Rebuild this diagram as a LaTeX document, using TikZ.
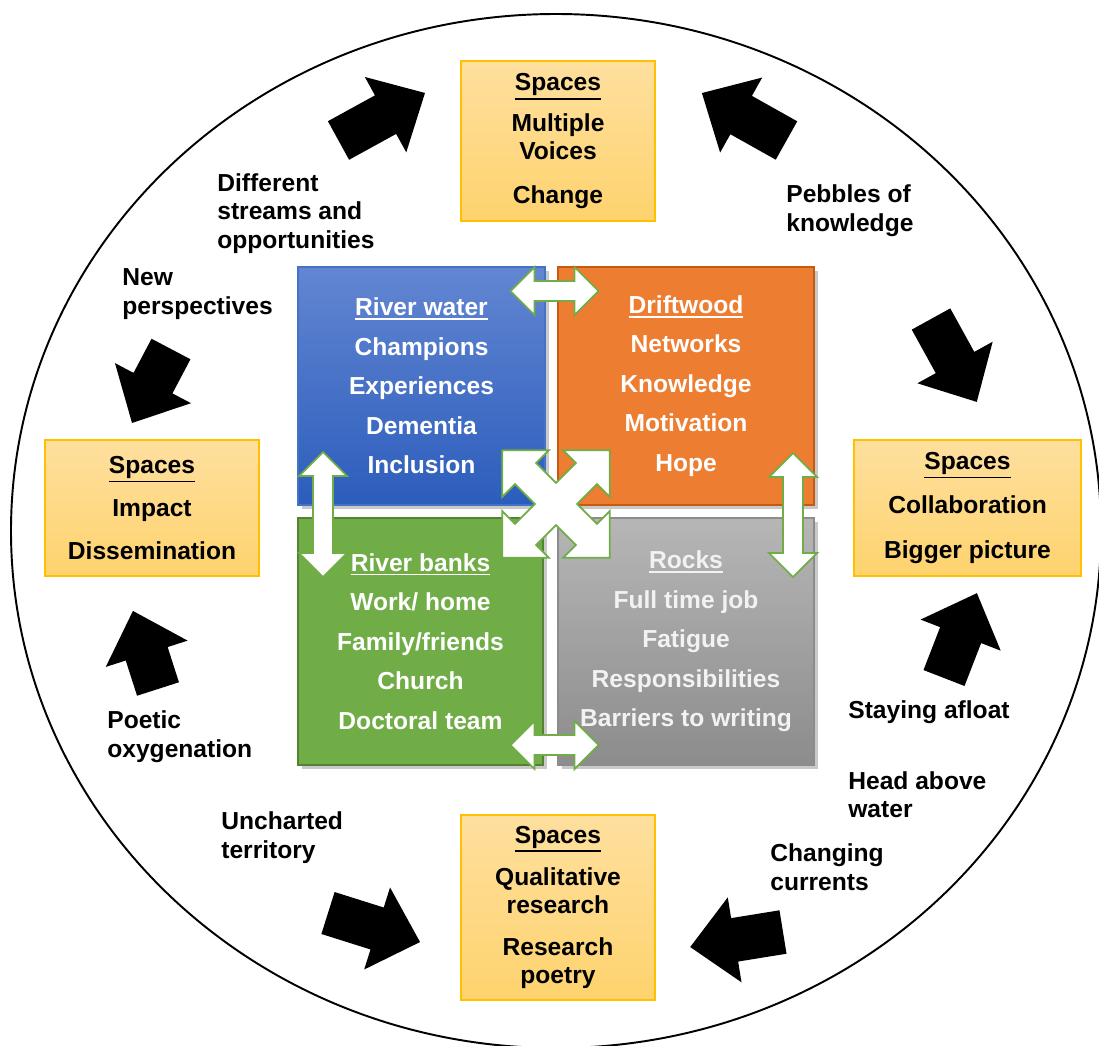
\documentclass[tikz,border=0pt]{standalone}
\usepackage{fontspec}
\setmainfont{Liberation Sans}
\usetikzlibrary{shadows}
\definecolor{spaceTop}{RGB}{254,223,158}
\definecolor{spaceBot}{RGB}{254,211,110}
\definecolor{spaceLine}{RGB}{255,192,0}
\definecolor{blueTop}{RGB}{98,134,210}
\definecolor{blueBot}{RGB}{44,93,188}
\definecolor{blueLine}{RGB}{68,114,196}
\definecolor{orangeFill}{RGB}{237,125,49}
\definecolor{orangeLine}{RGB}{197,90,17}
\definecolor{greenFill}{RGB}{112,173,71}
\definecolor{greenLine}{RGB}{84,130,53}
\definecolor{grayTop}{RGB}{182,182,182}
\definecolor{grayBot}{RGB}{140,140,140}
\definecolor{arrLine}{RGB}{112,173,71}
\newcommand\myuline[1]{\vtop{\hbox{#1}\kern1.2pt\hrule height 1pt}}
\tikzset{
  txt/.style={font=\fontsize{14}{16.2}\selectfont\bfseries},
  spacebox/.style={txt, draw=spaceLine, line width=0.8pt, top color=spaceTop, bottom color=spaceBot, align=center, inner sep=0pt, text=black},
  quad/.style={txt, align=center, inner sep=0pt, text=white, line width=0.8pt,
    drop shadow={opacity=0.35, shadow xshift=2.5pt, shadow yshift=-2.5pt, fill=black!60}},
  lbl/.style={txt, anchor=west, align=left, inner sep=0pt, text=black},
  whitearr/.style={fill=white, draw=arrLine, line width=1pt, line join=miter},
  pics/blk/.style={code={
    \fill[black] (0,-22) -- ({#1-45},-22) -- ({#1-45},-43) -- (#1,0) -- ({#1-45},43) -- ({#1-45},22) -- (0,22) -- cycle;
  }},
  pics/dbl/.style={code={
    \path[whitearr] ({-#1/2},0) -- ({-#1/2+24},-24) -- ({-#1/2+24},-10) -- ({#1/2-24},-10) -- ({#1/2-24},-24) -- ({#1/2},0)
      -- ({#1/2-24},24) -- ({#1/2-24},10) -- ({-#1/2+24},10) -- ({-#1/2+24},24) -- cycle;
  }},
  pics/quadarr/.style={code={
    \path[whitearr] (43,-15) -- (43,-33) -- (76,0) -- (43,33) -- (43,15) -- (15,15) -- (15,43) -- (33,43) -- (0,76) -- (-33,43) -- (-15,43)
      -- (-15,15) -- (-43,15) -- (-43,33) -- (-76,0) -- (-43,-33) -- (-43,-15) -- (-15,-15) -- (-15,-43) -- (-33,-43) -- (0,-76)
      -- (33,-43) -- (15,-43) -- (15,-15) -- cycle;
  }}
}
\begin{document}
\begin{tikzpicture}[x=0.02cm,y=-0.02cm]
\useasboundingbox (0,0) rectangle (1099,1045);
\clip (0,0) rectangle (1099,1045);
\fill[white] (0,0) rectangle (1099,1045);
% outer ellipse
\draw[black, line width=1.1pt] (556,531) ellipse [x radius=545, y radius=517];

% Spaces boxes
\node[spacebox, minimum width=3.88cm, minimum height=3.2cm] (stop) at (558,141)
  {\myuline{Spaces}\\[0.25cm]Multiple\\Voices\\[0.3cm]Change};
\node[spacebox, minimum width=4.28cm, minimum height=2.72cm] (sleft) at (152,508)
  {\myuline{Spaces}\\[0.29cm]Impact\\[0.29cm]Dissemination};
\node[spacebox, minimum width=4.54cm, minimum height=2.72cm] (sright) at (967.5,508)
  {\myuline{Spaces}\\[0.32cm]Collaboration\\[0.32cm]Bigger picture};
\node[spacebox, minimum width=3.88cm, minimum height=3.7cm] (sbot) at (558,907.5)
  {\myuline{Spaces}\\[0.27cm]Qualitative\\research\\[0.27cm]Research\\poetry};

% quadrants
\node[quad, draw=blueLine, top color=blueTop, bottom color=blueBot, minimum width=4.94cm, minimum height=4.76cm] (qblue) at (421.5,386)
  {\myuline{River water}\\[0.22cm]Champions\\[0.22cm]Experiences\\[0.22cm]Dementia\\[0.22cm]Inclusion};
\node[quad, draw=orangeLine, fill=orangeFill, minimum width=5.12cm, minimum height=4.76cm] (qorange) at (686,386)
  {\myuline{Driftwood}\\[0.22cm]Networks\\[0.22cm]Knowledge\\[0.22cm]Motivation\\[0.22cm]Hope};
\node[quad, draw=greenLine, fill=greenFill, minimum width=4.9cm, minimum height=4.94cm] (qgreen) at (420.5,641.5)
  {\myuline{River banks}\\[0.22cm]Work/ home\\[0.22cm]Family/friends\\[0.22cm]Church\\[0.22cm]Doctoral team};
\node[quad, draw=grayBot, top color=grayTop, bottom color=grayBot, text=black!5, minimum width=5.12cm, minimum height=4.94cm] (qgray) at (686,641.5)
  {\myuline{Rocks}\\[0.22cm]Full time job\\[0.22cm]Fatigue\\[0.22cm]Responsibilities\\[0.22cm]Barriers to writing};

% white double arrows
\pic (dtop) at (554.5,291) {dbl=88};
\pic (dbot) at (554.5,745) {dbl=88};
\pic[rotate=90] (dleft) at (323,514.5) {dbl=125};
\pic[rotate=90] (dright) at (793,515) {dbl=124};
\pic[rotate=45] (dcross) at (556,504) {quadarr};

% black block arrows
\pic[rotate=28.8] (a1) at (338.5,140.5) {blk=98.7};
\pic[rotate=150.7] (a2) at (786.5,140.5) {blk=97};
\pic[rotate=-61.1] (a3) at (931,319) {blk=94.7};
\pic[rotate=68.8] (a4) at (944,678) {blk=91};
\pic[rotate=189.2] (a5) at (783,932) {blk=94};
\pic[rotate=-17.5] (a6) at (328,913) {blk=96.5};
\pic[rotate=107.8] (a7) at (158,689) {blk=82};
\pic[rotate=-117.8] (a8) at (171,349) {blk=83.6};

% labels
\node[lbl] (l1) at (217,213.5) {Different\\streams and\\opportunities};
\node[lbl] (l2) at (122,294) {New\\perspectives};
\node[lbl] (l3) at (786,210.5) {Pebbles of\\knowledge};
\node[lbl] (l4) at (107,736.5) {Poetic\\oxygenation};
\node[lbl] (l5) at (848,712) {Staying afloat};
\node[lbl] (l6) at (848,794.5) {Head above\\water};
\node[lbl] (l7) at (221,837.5) {Uncharted\\territory};
\node[lbl] (l8) at (770,867) {Changing\\currents};
\end{tikzpicture}
\end{document}
